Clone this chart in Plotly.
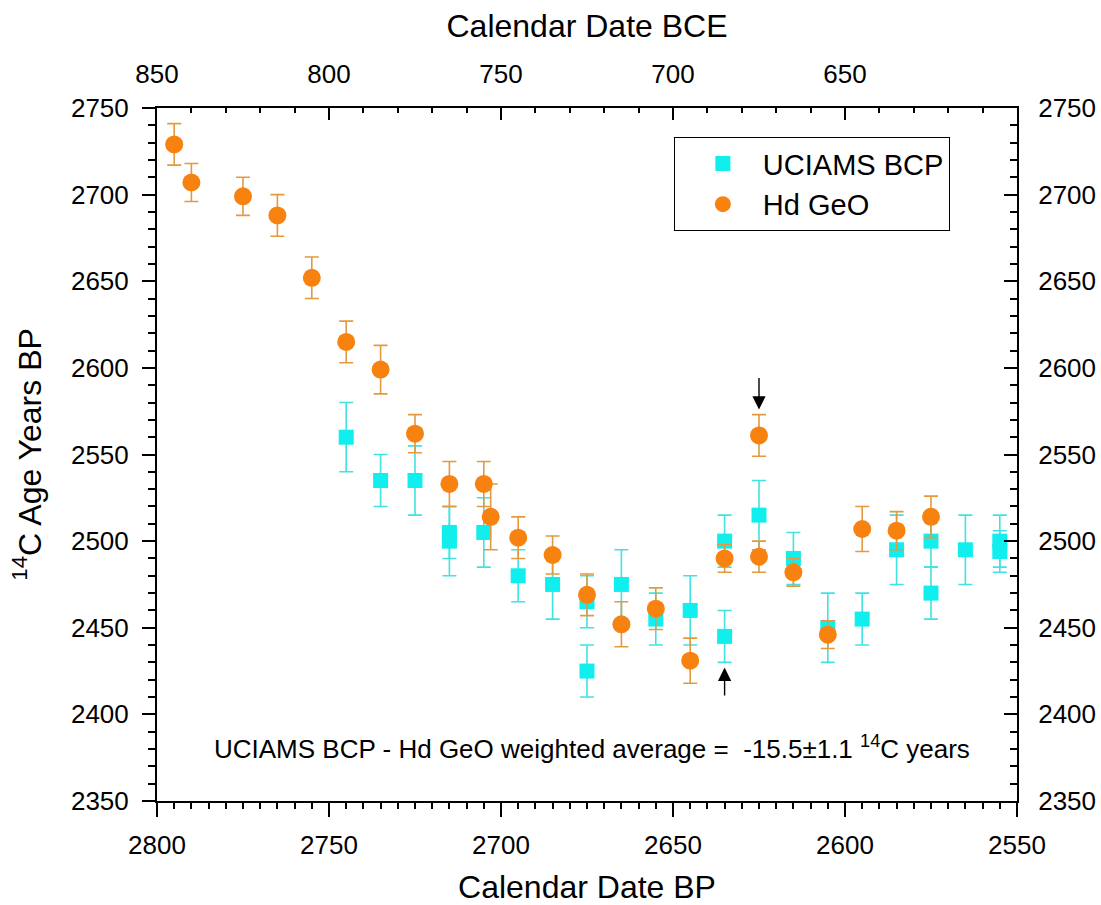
import plotly.graph_objects as go

# ---------------- data ----------------
bcp_x = [2745, 2735, 2725, 2715, 2715, 2705, 2695, 2685, 2675, 2675, 2665, 2655, 2645,
         2635, 2635, 2625, 2615, 2605, 2595, 2585, 2575, 2575, 2565, 2555, 2555]
bcp_y = [2560, 2535, 2535, 2505, 2500, 2505, 2480, 2475, 2465, 2425, 2475, 2455, 2460,
         2500, 2445, 2515, 2490, 2450, 2455, 2495, 2500, 2470, 2495, 2500, 2494]
bcp_err = [20, 15, 20, 15, 20, 20, 15, 20, 15, 15, 20, 15, 20,
           15, 15, 20, 15, 20, 15, 20, 15, 15, 20, 15, 12]

hd_x = [2795, 2790, 2775, 2765, 2755, 2745, 2735, 2725, 2715, 2705, 2703, 2695, 2685,
        2675, 2665, 2655, 2645, 2635, 2625, 2625, 2615, 2605, 2595, 2585, 2575]
hd_y = [2729, 2707, 2699, 2688, 2652, 2615, 2599, 2562, 2533, 2533, 2514, 2502, 2492,
        2469, 2452, 2461, 2431, 2490, 2561, 2491, 2482, 2446, 2507, 2506, 2514]
hd_err = [12, 11, 11, 12, 12, 12, 14, 11, 13, 13, 19, 12, 11,
          12, 13, 12, 13, 8, 12, 9, 8, 8, 13, 11, 12]

bp_ticks = [2800, 2750, 2700, 2650, 2600, 2550]
bce_ticks = [850, 800, 750, 700, 650]
y_ticks = [2350, 2400, 2450, 2500, 2550, 2600, 2650, 2700, 2750]
BP_TO_BCE = 1950  # calendar offset: BCE = BP - 1950

# arrows marking the outlier pair: (x, tail y, head y)
arrow_x = [2625, 2635]
arrow_tail = [2595, 2410]
arrow_head = [2576, 2427]

FONT = "Liberation Sans, Arial, sans-serif"
CYAN = "#10EEEE"
CYAN_ERR = "#40E2E2"
ORANGE = "#F8820F"
ORANGE_ERR = "#E39A3E"

fig = go.Figure()
fig.add_trace(go.Scatter(
    x=bcp_x, y=bcp_y, mode="markers", name="UCIAMS BCP",
    marker=dict(symbol="square", size=15, color=CYAN),
    error_y=dict(type="data", array=bcp_err, visible=True, color=CYAN_ERR,
                 thickness=1.6, width=7),
))
fig.add_trace(go.Scatter(
    x=hd_x, y=hd_y, mode="markers", name="Hd GeO",
    marker=dict(symbol="circle", size=18, color=ORANGE),
    error_y=dict(type="data", array=hd_err, visible=True, color=ORANGE_ERR,
                 thickness=1.6, width=7),
))
# transparent copies so the secondary (top BCE / right) axes are drawn
fig.add_trace(go.Scatter(
    x=[v - BP_TO_BCE for v in hd_x], y=hd_y, xaxis="x2", yaxis="y",
    mode="markers", marker=dict(opacity=0), showlegend=False, hoverinfo="skip",
))
fig.add_trace(go.Scatter(
    x=hd_x, y=hd_y, xaxis="x", yaxis="y2",
    mode="markers", marker=dict(opacity=0), showlegend=False, hoverinfo="skip",
))

for ax_, t_, h_ in zip(arrow_x, arrow_tail, arrow_head):
    fig.add_annotation(x=ax_, y=h_, ax=ax_, ay=t_, xref="x", yref="y",
                       axref="x", ayref="y", showarrow=True, text="",
                       arrowhead=2, arrowsize=1.9, arrowwidth=1.4,
                       arrowcolor="black", standoff=0, startstandoff=0)

fig.add_annotation(
    x=0.506, y=2381, xref="paper", yref="y", showarrow=False,
    text="UCIAMS BCP - Hd GeO weighted average =  -15.5\u00b11.1 <sup>14</sup>C years",
    font=dict(family=FONT, size=26, color="black"),
)

axis_common = dict(showline=True, linewidth=2, linecolor="black", showgrid=False,
                   zeroline=False, tickcolor="black", tickwidth=2, automargin=False,
                   tickfont=dict(family=FONT, size=26, color="black"))

fig.update_layout(
    width=1101, height=905,
    margin=dict(l=157, r=84, t=108, b=104, pad=0, autoexpand=False),
    paper_bgcolor="white", plot_bgcolor="white",
    font=dict(family=FONT, color="black"),
    xaxis=dict(range=[2800, 2550], tickvals=bp_ticks, ticks="outside", ticklen=14,
               minor=dict(dtick=5, tick0=2550, ticks="outside", ticklen=6,
                          tickwidth=2, tickcolor="black"),
               ticklabelstandoff=6,
               title=dict(text="Calendar Date BP", font=dict(family=FONT, size=32),
                          standoff=17),
               **axis_common),
    xaxis2=dict(range=[850, 600], overlaying="x", side="top", anchor="y",
                tickvals=bce_ticks, ticks="inside", ticklen=12,
                minor=dict(dtick=10, tick0=600, ticks="inside", ticklen=5,
                           tickwidth=2, tickcolor="black"),
                ticklabelstandoff=13,
                title=dict(text="Calendar Date BCE", font=dict(family=FONT, size=32),
                           standoff=11),
                **axis_common),
    yaxis=dict(range=[2350, 2750], tickvals=y_ticks, ticks="outside", ticklen=13,
               minor=dict(dtick=10, tick0=2350, ticks="outside", ticklen=7,
                          tickwidth=2, tickcolor="black"),
               ticklabelstandoff=8,
               title=dict(text="<sup>14</sup>C Age Years BP",
                          font=dict(family=FONT, size=32), standoff=20),
               **axis_common),
    yaxis2=dict(range=[2350, 2750], overlaying="y", side="right", anchor="x",
                tickvals=y_ticks, ticks="inside", ticklen=13,
                minor=dict(dtick=10, tick0=2350, ticks="inside", ticklen=7,
                           tickwidth=2, tickcolor="black"),
                ticklabelstandoff=14,
                **axis_common),
    legend=dict(x=0.601, y=0.958, xanchor="left", yanchor="top",
                bordercolor="black", borderwidth=1, bgcolor="white",
                font=dict(family=FONT, size=29, color="black"),
                indentation=8, itemwidth=70, tracegroupgap=0),
    showlegend=True,
)

fig.write_html("out.html")
